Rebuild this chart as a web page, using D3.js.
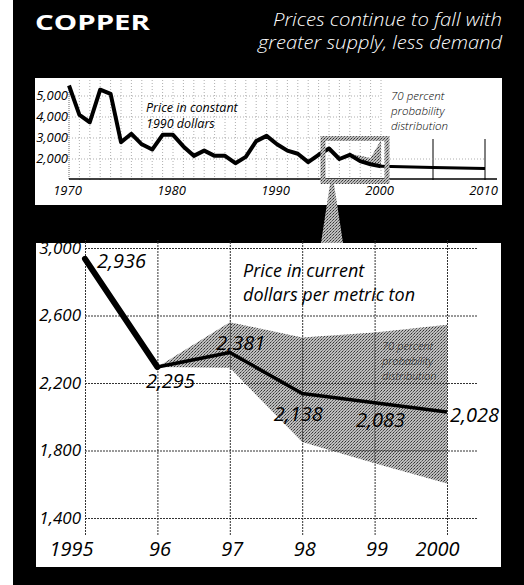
<!DOCTYPE html>
<html><head><meta charset="utf-8">
<script src="https://cdn.jsdelivr.net/npm/d3@7"></script>
<style>
html,body{margin:0;padding:0;background:#fff;}
svg{display:block;}
text{font-family:"Open Sans","Noto Sans","DejaVu Sans",sans-serif;}
</style></head>
<body>
<svg id="c" width="524" height="585"></svg>
<script>
// ---------- DATA ----------
const titleText = "COPPER";
const subtitleLines = ["Prices continue to fall with", "greater supply, less demand"];

// Top chart: price in constant 1990 dollars
const histYears  = [1970,1971,1972,1973,1974,1975,1976,1977,1978,1979,1980,1981,1982,1983,1984,1985,1986,1987,1988,1989,1990,1991,1992,1993,1994,1995,1996,1997,1998,1999,2000,2005,2010];
const histValues = [5500,4100,3750,5300,5100,2800,3200,2700,2450,3150,3150,2600,2150,2400,2150,2150,1800,2100,2850,3100,2700,2400,2250,1850,2200,2500,2000,2200,1900,1750,1650,1600,1550];
const topBandYears = [1996,1997,1998,1999,2000];
const topBandUpper = [2000,2250,2150,2050,2900];
const topBandLower = [2000,2150,1800,1700,1650];
const topYTicks = [2000,3000,4000,5000];
const topXTicks = [1970,1980,1990,2000,2010];
const topNote1 = ["Price in constant", "1990 dollars"];
const topNote2 = ["70 percent", "probability", "distribution"];

// Bottom chart: price in current dollars per metric ton
const years  = [1995,1996,1997,1998,1999,2000];
const prices = [2936,2295,2381,2138,2083,2028];
const priceLabels = ["2,936","2,295","2,381","2,138","2,083","2,028"];
const bandYears = [1996,1997,1998,1999,2000];
const bandUpper = [2295,2560,2470,2500,2545];
const bandLower = [2295,2290,1850,1725,1605];
const yTicks = [1400,1800,2200,2600,3000];
const xTickLabels = ["1995","96","97","98","99","2000"];
const bottomNote = ["Price in current", "dollars per metric ton"];
const bandNote = ["70 percent", "probability", "distribution"];

// ---------- DRAW ----------
const FONT = "'Open Sans','Noto Sans','DejaVu Sans',sans-serif";
const svg = d3.select("#c");
const defs = svg.append("defs");
const pat = defs.append("pattern").attr("id","ht").attr("width",3).attr("height",3).attr("patternUnits","userSpaceOnUse");
pat.append("rect").attr("width",3).attr("height",3).attr("fill","#bdbdbd");
pat.append("rect").attr("width",1).attr("height",1).attr("fill","#333");
pat.append("rect").attr("x",2).attr("y",1).attr("width",1).attr("height",1).attr("fill","#555");
pat.append("rect").attr("x",1).attr("y",2).attr("width",1).attr("height",1).attr("fill","#777");

// background
svg.append("rect").attr("x",13).attr("y",0).attr("width",511).attr("height",585).attr("fill","#000");

// title
svg.append("text").attr("x",35).attr("y",30).attr("fill","#fff").attr("font-size",21).attr("font-weight",700)
  .attr("textLength",115).attr("lengthAdjust","spacingAndGlyphs").text(titleText);
const subW = [229, 244];
svg.selectAll("text.sub").data(subtitleLines).join("text").attr("class","sub")
  .attr("x",(d,i)=>502-subW[i]).attr("y",(d,i)=>26+i*23).attr("fill","#fff")
  .attr("font-size",18).attr("font-style","italic").attr("font-weight",300)
  .attr("textLength",(d,i)=>subW[i]).attr("lengthAdjust","spacingAndGlyphs").text(d=>d);

// ===== Top panel =====
svg.append("rect").attr("x",35).attr("y",78).attr("width",467).attr("height",127).attr("fill","#fff");
const xT = d3.scaleLinear().domain([1970,2010]).range([69,485]);
const yT = d3.scaleLinear().domain([1000,5000]).range([180,96]);
const gT = svg.append("g");

gT.selectAll("line.vg").data(d3.range(1971,2001)).join("line").attr("class","vg")
  .attr("x1",d=>xT(d)).attr("x2",d=>xT(d)).attr("y1",80).attr("y2",yT(1000))
  .attr("stroke","#999").attr("stroke-width",0.8).attr("stroke-dasharray","1,2");
gT.selectAll("line.vs").data([2005,2010]).join("line").attr("class","vs")
  .attr("x1",d=>xT(d)).attr("x2",d=>xT(d)).attr("y1",139).attr("y2",yT(1000))
  .attr("stroke","#000").attr("stroke-width",1);
gT.append("line").attr("x1",xT(1970)).attr("x2",xT(1970)).attr("y1",88).attr("y2",yT(1000))
  .attr("stroke","#666").attr("stroke-width",1).attr("stroke-dasharray","1,1");
gT.selectAll("line.hg").data(topYTicks).join("line").attr("class","hg")
  .attr("x1",xT(1970)).attr("x2",d=>d===2000?xT(2010):xT(2000)).attr("y1",d=>yT(d)).attr("y2",d=>yT(d))
  .attr("stroke","#999").attr("stroke-width",0.8).attr("stroke-dasharray","1,2");
gT.selectAll("text.yl").data(topYTicks).join("text").attr("class","yl")
  .attr("x",68).attr("y",d=>yT(d)+4).attr("text-anchor","end").attr("font-size",13).attr("font-style","italic")
  .text(d3.format(","));
const axT = d3.axisBottom(xT).tickValues(topXTicks).tickSize(0).tickFormat(d3.format("d"));
const gax = gT.append("g").attr("transform",`translate(0,${yT(1000)-1})`).call(axT);
gax.select(".domain").attr("stroke","#000").attr("stroke-width",1.5).attr("d",`M${xT(1970)},0H${xT(2010)+12}`);
gax.selectAll("text").attr("font-size",13).attr("font-style","italic").attr("fill","#000")
  .attr("font-family",FONT).attr("dy",0).attr("y",16).attr("dx",-2);
const areaT = d3.area().x((d,i)=>xT(topBandYears[i])).y0((d,i)=>yT(topBandLower[i])).y1((d,i)=>yT(topBandUpper[i]));
gT.append("path").attr("d",areaT(topBandYears)).attr("fill","url(#ht)");
const histEnd = histYears.indexOf(2000);
gT.append("path").attr("d",d3.line().x((d,i)=>xT(histYears[i])).y(d=>yT(d))(histValues.slice(0,histEnd+1))).attr("fill","none")
  .attr("stroke","#000").attr("stroke-width",4).attr("stroke-linejoin","round");
gT.append("path").attr("d",d3.line().x((d,i)=>xT(histYears[histEnd+i])).y(d=>yT(d))(histValues.slice(histEnd)))
  .attr("fill","none").attr("stroke","#000").attr("stroke-width",3);
gT.append("rect").attr("x",xT(1995)-6).attr("y",138.5).attr("width",xT(2000)-xT(1995)+12).attr("height",43)
  .attr("fill","none").attr("stroke","url(#ht)").attr("stroke-width",5);
gT.selectAll("text.n1").data(topNote1).join("text").attr("class","n1")
  .attr("x",146).attr("y",(d,i)=>112+i*16).attr("font-size",12.5).attr("font-style","italic").text(d=>d);
gT.selectAll("text.n2").data(topNote2).join("text").attr("class","n2")
  .attr("x",391).attr("y",(d,i)=>100+i*15).attr("font-size",11.5).attr("font-style","italic").attr("font-weight",300).text(d=>d);

svg.append("path").attr("d","M330,184L334,184L343,243L321,243Z").attr("fill","url(#ht)");

// ===== Bottom panel =====
svg.append("rect").attr("x",36).attr("y",243).attr("width",465).attr("height",324).attr("fill","#fff");
const xB = d3.scaleLinear().domain([1995,2000]).range([85,447]);
const yB = d3.scaleLinear().domain([1400,3000]).range([518,248]);
const gB = svg.append("g");

const areaB = d3.area().x((d,i)=>xB(bandYears[i])).y0((d,i)=>yB(bandLower[i])).y1((d,i)=>yB(bandUpper[i]));
gB.append("path").attr("d",areaB(bandYears)).attr("fill","url(#ht)");

const gridRight = 478;
const ayB = d3.axisLeft(yB).tickValues(yTicks).tickFormat(d3.format(",")).tickSize(-(gridRight-xB(1995))).tickPadding(4);
const gy = gB.append("g").attr("transform",`translate(${xB(1995)},0)`).call(ayB);
gy.select(".domain").remove();
gy.selectAll("line").attr("stroke","#333").attr("stroke-width",1).attr("stroke-dasharray","2,1");
gy.selectAll("text").attr("font-size",17).attr("font-style","italic").attr("fill","#000").attr("font-family",FONT);

const axB = d3.axisBottom(xB).tickValues(years).tickSize(-(535-240)).tickFormat((d,i)=>xTickLabels[i]).tickPadding(6);
const gx = gB.append("g").attr("transform","translate(0,535)").call(axB);
gx.select(".domain").remove();
gx.selectAll("line").attr("stroke","#333").attr("stroke-width",1).attr("stroke-dasharray","2,1");
gx.selectAll("text").attr("font-size",20).attr("font-style","italic").attr("fill","#000")
  .attr("font-family",FONT).attr("dy",0).attr("y",21)
  .attr("dx",(d,i)=> i===0 ? -14 : (i===years.length-1 ? -10 : 2));

gB.append("path").attr("d",d3.line().x((d,i)=>xB(years[i])).y(d=>yB(d))(prices.slice(0,2))).attr("fill","none").attr("stroke","#000")
  .attr("stroke-width",6).attr("stroke-linecap","round");
gB.append("path").attr("d",d3.line().x((d,i)=>xB(years[i+1])).y(d=>yB(d))(prices.slice(1))).attr("fill","none")
  .attr("stroke","#000").attr("stroke-width",3.5).attr("stroke-linejoin","round");

const lblOff = [[12,9,"start"],[13,21,"middle"],[11,-2,"middle"],[-4,28,"middle"],[6,24,"middle"],[3,10,"start"]];
gB.selectAll("text.vl").data(prices).join("text").attr("class","vl")
  .attr("x",(d,i)=>xB(years[i])+lblOff[i][0]).attr("y",(d,i)=>yB(d)+lblOff[i][1])
  .attr("text-anchor",(d,i)=>lblOff[i][2]).attr("font-size",20).attr("font-style","italic")
  .text((d,i)=>priceLabels[i]);

gB.selectAll("text.bn").data(bottomNote).join("text").attr("class","bn")
  .attr("x",243).attr("y",(d,i)=>277+i*24).attr("font-size",18).attr("font-style","italic").text(d=>d);
gB.selectAll("text.bd").data(bandNote).join("text").attr("class","bd")
  .attr("x",382).attr("y",(d,i)=>350+i*15).attr("font-size",11).attr("font-style","italic").attr("font-weight",300)
  .attr("fill","#222").text(d=>d);
</script>
</body></html>
